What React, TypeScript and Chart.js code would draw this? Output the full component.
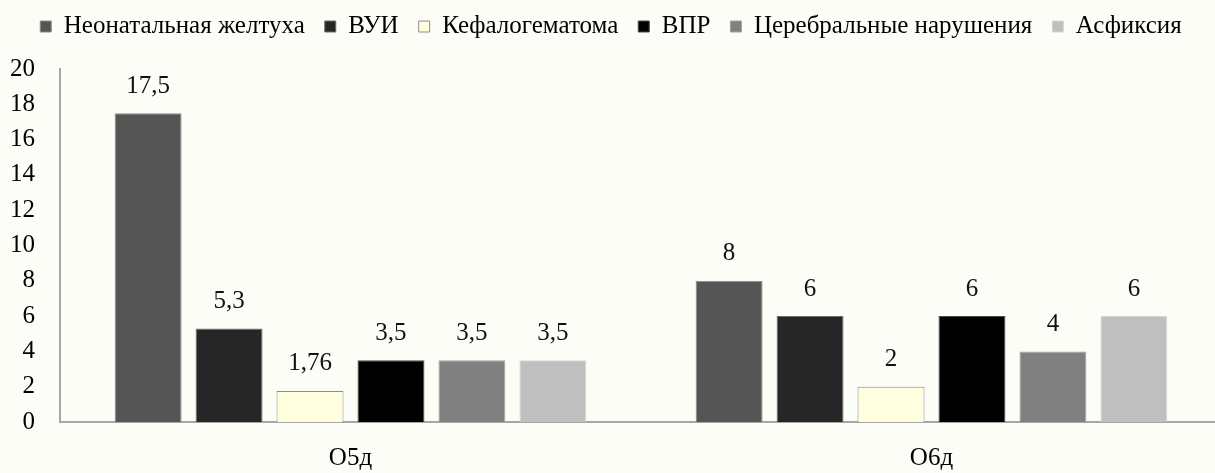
import React, { useEffect, useRef } from "react";
import { Chart, registerables } from "chart.js";

Chart.register(...registerables);

const categories = ["О5д", "О6д"];
const seriesNames = [
  "Неонатальная желтуха",
  "ВУИ",
  "Кефалогематома",
  "ВПР",
  "Церебральные нарушения",
  "Асфиксия",
];
const jaundice = [17.5, 8];
const vui = [5.3, 6];
const cephalohematoma = [1.76, 2];
const vpr = [3.5, 6];
const cerebral = [3.5, 4];
const asphyxia = [3.5, 6];
const yTicks = [0, 2, 4, 6, 8, 10, 12, 14, 16, 18, 20];

const seriesValues = [jaundice, vui, cephalohematoma, vpr, cerebral, asphyxia];
const fills = ["#555555", "#262626", "#ffffe0", "#000000", "#808080", "#bfbfbf"];
const borders = ["#8a8a8a", "#6a6a6a", "#8c8c8c", "#4a4a4a", "#a0a0a0", "#d6d6d6"];

const FONT = "Liberation Serif";
const FS = 25;

const valueLabels = {
  id: "valueLabels",
  afterDatasetsDraw(chart: any) {
    const ctx = chart.ctx;
    ctx.save();
    ctx.font = `${FS}px "Liberation Serif"`;
    ctx.fillStyle = "#111111";
    ctx.textAlign = "center";
    ctx.textBaseline = "middle";
    chart.data.datasets.forEach((ds: any, i: number) => {
      const meta = chart.getDatasetMeta(i);
      meta.data.forEach((bar: any, j: number) => {
        const v = ds.data[j];
        const txt = String(v).replace(".", ",");
        ctx.fillText(txt, bar.x, bar.y - 27);
      });
    });
    ctx.restore();
  },
};

const legendSpacer = {
  id: "legendSpacer",
  beforeInit(chart: any) {
    const orig = chart.legend.fit;
    chart.legend.fit = function () {
      orig.call(this);
      this.height += 20;
    };
  },
};

export default function App() {
  const ref = useRef<HTMLCanvasElement>(null);
  useEffect(() => {
    if (!ref.current) return;
    const chart = new Chart(ref.current, {
      type: "bar",
      data: {
        labels: categories,
        datasets: seriesNames.map((name, i) => ({
          label: name,
          data: seriesValues[i],
          backgroundColor: fills[i],
          borderColor: borders[i],
          borderWidth: 1,
          categoryPercentage: 0.836,
          barPercentage: 0.827,
        })),
      },
      options: {
        animation: false,
        responsive: false,
        maintainAspectRatio: false,
        layout: { padding: { left: 0, right: 8, top: -6, bottom: 0 } },
        plugins: {
          tooltip: { enabled: false },
          legend: {
            position: "top",
            align: "center",
            labels: {
              color: "#000000",
              font: { family: FONT, size: FS },
              boxWidth: 11,
              boxHeight: 11,
              padding: 20,
            },
          },
        },
        scales: {
          x: {
            afterFit(scale: any) {
              scale.height = 51;
            },
            grid: { display: false, drawTicks: false },
            border: { display: true, color: "#a6a6a6", width: 2 },
            ticks: {
              color: "#000000",
              font: { family: FONT, size: FS },
              padding: 21,
            },
          },
          y: {
            min: 0,
            max: 20,
            afterFit(scale: any) {
              scale.width = 60;
            },
            afterBuildTicks(scale: any) {
              scale.ticks = yTicks.map((v) => ({ value: v }));
            },
            grid: { display: false, drawTicks: false },
            border: { display: true, color: "#a6a6a6", width: 2 },
            ticks: {
              autoSkip: false,
              color: "#000000",
              font: { family: FONT, size: FS },
              padding: 25,
            },
          },
        },
      },
      plugins: [valueLabels, legendSpacer],
    });
    return () => chart.destroy();
  }, []);
  return (
    <div
      style={{
        position: "fixed",
        left: 0,
        top: 0,
        width: 1215,
        height: 473,
        overflow: "hidden",
        background: "#fdfdf8",
      }}
    >
      <canvas ref={ref} width={1230} height={473} style={{ display: "block" }} />
    </div>
  );
}
